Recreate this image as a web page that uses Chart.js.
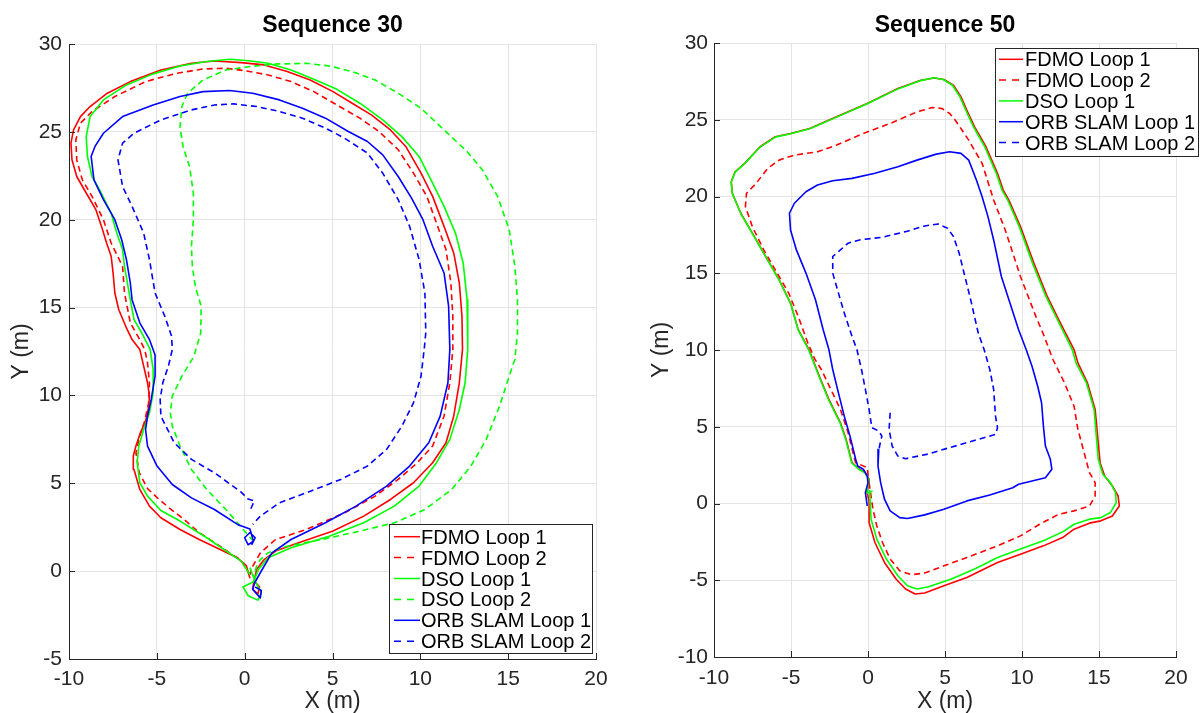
<!DOCTYPE html>
<html>
<head>
<meta charset="utf-8">
<title>Sequence 30 / Sequence 50</title>
<script src="https://cdn.jsdelivr.net/npm/chart.js@4.4.1/dist/chart.umd.min.js"></script>
<style>
    html, body { margin: 0; padding: 0; background: #fff; }
    #wrap { position: relative; width: 1200px; height: 713px; overflow: hidden; }
    canvas { position: absolute; top: 0; }
    #seq30Chart { left: 0; }
    #seq50Chart { left: 625px; }
</style>
</head>
<body>
<div id="wrap">
    <canvas id="seq30Chart" width="625" height="713"></canvas>
    <canvas id="seq50Chart" width="575" height="713"></canvas>
</div>
<script>
// ---- data (metres) ----
const seq30XTicks = [-10, -5, 0, 5, 10, 15, 20];
const seq30YTicks = [-5, 0, 5, 10, 15, 20, 25, 30];
const seq50XTicks = [-10, -5, 0, 5, 10, 15, 20];
const seq50YTicks = [-10, -5, 0, 5, 10, 15, 20, 25, 30];

const seq30FdmoLoop1 = [
    [0.3, -0.4], [0.1, 0.3], [-0.41, 0.76], [-2.59, 1.8], [-3.68, 2.37], [-4.77, 3.04], [-5.42, 3.7],
    [-5.97, 4.65], [-6.3, 5.79], [-6.34, 6.55], [-6.19, 7.12], [-5.97, 7.78], [-5.64, 8.54], [-5.47, 9.3],
    [-5.42, 9.96], [-5.53, 10.72], [-5.75, 11.67], [-5.97, 12.62], [-6.41, 13.18], [-6.73, 13.84],
    [-7.17, 14.89], [-7.39, 15.83], [-7.49, 16.97], [-7.6, 17.92], [-7.86, 18.67], [-8.15, 19.62],
    [-8.47, 20.57], [-9.02, 21.52], [-9.56, 22.46], [-9.83, 23.41], [-9.89, 24.36], [-9.74, 25.11],
    [-9.35, 25.87], [-8.8, 26.44], [-7.82, 27.2], [-6.51, 27.86], [-4.77, 28.52], [-3.03, 28.9],
    [-1.72, 29.03], [-0.2, 28.94], [1.11, 28.81], [2.42, 28.43], [3.73, 27.95], [5.03, 27.29],
    [6.12, 26.63], [7.21, 25.97], [8.3, 25.11], [9.17, 24.17], [10.04, 22.65], [10.7, 21.33],
    [11.35, 19.62], [11.9, 18.11], [12.22, 16.4], [12.37, 14.51], [12.4, 12.62], [12.22, 10.72],
    [11.9, 8.82], [11.46, 7.31], [10.7, 6.17], [9.61, 5.03], [8.3, 4.08], [6.78, 3.13], [5.03, 2.28],
    [3.07, 1.61], [1.76, 1.14], [1.11, 0.66], [0.68, 0.09], [0.55, -0.5], [0.45, -1.0], [0.75, -1.3],
    [0.85, -0.9], [0.5, -0.5],
];
const seq30FdmoLoop2 = [
    [0.3, -0.2], [-0.2, 0.6], [-1.6, 1.55], [-2.6, 2.2], [-3.46, 2.95], [-4.3, 3.6], [-5.0, 4.2],
    [-5.53, 4.7], [-6.0, 5.6], [-6.19, 6.74], [-5.97, 7.69], [-5.69, 8.54], [-5.47, 9.58], [-5.42, 10.72],
    [-5.53, 11.86], [-5.69, 12.62], [-6.08, 13.37], [-6.51, 14.13], [-6.84, 15.83], [-6.95, 17.35],
    [-7.6, 18.67], [-8.04, 20.0], [-8.69, 21.33], [-9.24, 22.27], [-9.56, 23.41], [-9.61, 24.55],
    [-9.35, 25.49], [-8.69, 26.16], [-7.39, 27.01], [-5.64, 27.86], [-3.9, 28.33], [-2.37, 28.58],
    [-1.07, 28.62], [0.02, 28.48], [1.33, 28.24], [2.64, 27.86], [3.94, 27.29], [5.25, 26.53],
    [6.56, 25.78], [7.65, 25.02], [8.74, 23.98], [9.61, 22.65], [10.37, 21.33], [10.92, 19.81],
    [11.46, 18.3], [11.74, 16.4], [11.85, 14.51], [11.85, 12.62], [11.68, 10.72], [11.35, 8.82],
    [10.7, 7.12], [9.83, 6.17], [8.74, 5.22], [7.43, 4.27], [5.69, 3.32], [3.51, 2.37], [1.76, 1.8],
    [0.89, 1.04], [0.46, 0.28], [0.3, -0.2],
];
const seq30DsoLoop1 = [
    [0.3, -0.2], [-0.2, 0.57], [-2.16, 1.9], [-3.68, 2.85], [-4.77, 3.45], [-5.53, 4.27], [-5.97, 5.03],
    [-6.12, 6.17], [-6.03, 7.12], [-5.75, 8.06], [-5.42, 9.01], [-5.21, 10.15], [-5.21, 11.48],
    [-5.38, 12.62], [-5.86, 13.56], [-6.3, 14.32], [-6.51, 15.45], [-6.84, 17.35], [-6.95, 18.3],
    [-7.28, 19.24], [-7.6, 20.38], [-8.26, 21.7], [-8.69, 22.46], [-8.95, 23.6], [-9.02, 24.73],
    [-8.8, 25.87], [-8.04, 26.82], [-6.73, 27.67], [-5.21, 28.3], [-3.68, 28.75], [-2.16, 29.0],
    [-0.85, 29.13], [0.24, 29.05], [1.33, 28.9], [2.64, 28.52], [3.94, 27.99], [5.25, 27.42],
    [6.56, 26.63], [7.86, 25.68], [8.95, 24.73], [9.93, 23.6], [10.7, 22.08], [11.35, 20.76],
    [12.0, 19.24], [12.44, 17.54], [12.66, 15.45], [12.7, 12.62], [12.55, 10.72], [12.22, 9.2],
    [11.68, 7.5], [10.92, 6.17], [9.93, 4.84], [8.52, 3.7], [6.78, 2.75], [4.81, 1.99], [2.64, 1.33],
    [1.33, 0.76], [0.79, 0.09], [0.5, -0.6], [-0.1, -0.9], [0.2, -1.4], [0.75, -1.65], [0.95, -1.2],
    [0.6, -0.6], [0.3, 0.2],
];
const seq30DsoLoop2 = [
    [0.5, 1.7], [-0.41, 2.75], [-1.07, 3.51], [-2.16, 4.65], [-3.03, 5.79], [-3.68, 7.12], [-4.12, 8.25],
    [-4.23, 9.01], [-4.12, 9.96], [-3.57, 11.1], [-2.9, 12.2], [-2.5, 13.56], [-2.48, 15.08],
    [-2.81, 16.21], [-2.98, 17.35], [-3.03, 18.49], [-2.92, 20.0], [-2.92, 21.52], [-3.14, 23.03],
    [-3.51, 24.17], [-3.68, 25.3], [-3.57, 26.44], [-3.25, 27.2], [-2.37, 27.95], [-1.07, 28.52],
    [0.24, 28.71], [1.76, 28.86], [3.51, 28.9], [4.81, 28.75], [6.12, 28.43], [7.43, 27.95],
    [8.74, 27.2], [10.04, 26.34], [11.35, 25.11], [12.66, 23.88], [13.53, 22.84], [14.4, 21.33],
    [15.06, 19.43], [15.38, 17.35], [15.53, 15.45], [15.53, 13.56], [15.38, 12.05], [15.06, 11.1],
    [14.51, 9.39], [13.75, 7.5], [12.88, 5.98], [11.79, 4.65], [10.26, 3.51], [8.52, 2.75], [6.56, 2.28],
    [4.38, 1.8], [2.42, 1.42], [1.33, 1.04], [0.89, 0.66], [0.68, 0.28], [0.5, -0.3],
];
const seq30OrbLoop1 = [
    [0.4, 1.5], [0.6, 1.9], [0.3, 2.2], [0.0, 1.9], [0.2, 1.5], [0.5, 1.7], [0.3, 2.4], [-0.41, 2.66],
    [-1.72, 3.51], [-3.03, 4.17], [-4.12, 4.93], [-4.99, 5.98], [-5.53, 7.12], [-5.64, 8.06],
    [-5.53, 8.82], [-5.32, 9.77], [-5.1, 11.1], [-5.1, 12.3], [-5.42, 13.18], [-5.97, 14.13],
    [-6.41, 15.45], [-6.51, 16.4], [-6.73, 17.73], [-7.0, 18.86], [-7.39, 20.0], [-8.04, 21.14],
    [-8.58, 22.27], [-8.74, 23.6], [-8.52, 24.17], [-8.04, 24.92], [-6.95, 25.87], [-5.21, 26.53],
    [-3.68, 27.01], [-2.37, 27.29], [-0.85, 27.35], [0.46, 27.2], [1.98, 26.82], [3.29, 26.34],
    [4.6, 25.78], [5.9, 25.02], [6.99, 24.45], [7.86, 23.69], [8.74, 22.46], [9.5, 21.23], [10.15, 20.0],
    [10.7, 18.49], [11.35, 16.97], [11.61, 15.08], [11.68, 12.62], [11.57, 10.72], [11.13, 8.82],
    [10.48, 7.31], [9.39, 5.98], [8.08, 4.84], [6.34, 3.7], [4.6, 2.75], [2.64, 1.8], [1.55, 1.04],
    [0.89, -0.09], [0.57, -0.66], [0.46, -1.04], [0.89, -1.52], [0.95, -1.1], [0.6, -0.9],
];
const seq30OrbLoop2 = [
    [0.35, 3.55], [0.55, 4.0], [0.2, 4.1], [-0.2, 4.5], [-0.41, 4.65], [-1.72, 5.6], [-3.03, 6.36],
    [-4.01, 7.31], [-4.77, 8.82], [-4.81, 9.77], [-4.66, 10.72], [-4.34, 11.67], [-4.12, 12.62],
    [-4.16, 13.37], [-4.55, 14.51], [-5.1, 15.83], [-5.42, 17.73], [-5.75, 19.24], [-6.41, 20.76],
    [-6.95, 21.89], [-7.21, 23.41], [-6.95, 24.36], [-6.3, 24.92], [-4.77, 25.68], [-3.03, 26.25],
    [-1.72, 26.53], [-0.63, 26.59], [0.68, 26.44], [1.98, 26.16], [3.29, 25.78], [4.6, 25.21],
    [5.69, 24.64], [6.99, 23.79], [7.86, 22.65], [8.74, 21.14], [9.39, 19.62], [9.93, 17.73],
    [10.26, 15.83], [10.31, 13.56], [10.22, 12.62], [10.04, 11.1], [9.61, 9.58], [8.95, 8.25],
    [8.08, 6.93], [6.99, 5.98], [5.47, 5.22], [3.51, 4.46], [1.98, 3.89], [0.89, 3.13], [0.46, 2.66],
];

const seq50FdmoLoop1 = [
    [0.07, 0.1], [0.07, -1.24], [0.45, -2.54], [1.07, -3.84], [1.82, -4.92], [2.44, -5.57], [3.06, -5.9],
    [3.68, -5.83], [4.93, -5.36], [6.42, -4.82], [8.41, -3.84], [9.9, -3.3], [11.39, -2.76], [12.64, -2.22],
    [13.38, -1.67], [14.38, -1.28], [15.12, -1.13], [15.87, -0.81], [16.32, -0.16], [16.24, 0.49],
    [15.87, 1.14], [15.37, 1.79], [15.07, 2.66], [14.75, 6.13], [14.25, 7.86], [13.63, 9.16],
    [13.38, 10.03], [12.39, 11.97], [11.64, 13.49], [10.77, 15.66], [9.9, 18.04], [9.15, 19.77],
    [8.78, 20.42], [8.41, 21.51], [7.66, 23.24], [6.92, 24.54], [6.42, 25.62], [6.04, 26.49],
    [5.55, 27.25], [4.93, 27.62], [4.3, 27.72], [3.43, 27.57], [1.94, 27.03], [-0.05, 26.06],
    [-2.04, 25.19], [-3.78, 24.43], [-5.03, 24.11], [-6.02, 23.89], [-7.01, 23.24], [-8.01, 22.16],
    [-8.63, 21.61], [-8.88, 20.96], [-8.81, 20.21], [-8.26, 18.91], [-7.51, 17.61], [-6.77, 16.31],
    [-5.77, 14.57], [-5.03, 13.06], [-4.53, 11.32], [-3.83, 10.03], [-3.16, 8.29], [-2.54, 6.78],
    [-1.79, 5.26], [-1.42, 4.18], [-1.04, 2.66], [-0.55, 2.23], [-0.17, 2.01], [0.07, 1.58],
    [-0.05, 0.71], [0.07, 0.1],
];
const seq50FdmoLoop2 = [
    [0.07, 1.36], [0.32, -0.37], [0.57, -1.46], [0.94, -2.54], [1.44, -3.62], [2.06, -4.38], [2.81, -4.64],
    [3.68, -4.53], [4.93, -4.06], [6.42, -3.52], [8.41, -2.76], [9.9, -2.11], [11.14, -1.35],
    [12.39, -0.7], [13.38, -0.48], [14.38, -0.16], [14.75, 0.49], [14.75, 1.36], [14.38, 2.01],
    [13.63, 4.83], [13.38, 6.34], [12.76, 7.86], [12.01, 9.38], [11.4, 11.0], [10.9, 12.19], [9.9, 14.79],
    [8.91, 17.82], [8.16, 19.77], [7.41, 22.16], [6.54, 23.67], [5.67, 24.97], [5.3, 25.41], [4.8, 25.73],
    [4.18, 25.8], [3.18, 25.51], [1.44, 24.76], [-0.3, 24.11], [-2.04, 23.35], [-3.28, 22.91],
    [-4.78, 22.7], [-5.77, 22.37], [-6.52, 21.83], [-7.26, 20.86], [-7.89, 20.21], [-7.96, 19.34],
    [-7.51, 18.04], [-6.77, 16.52], [-6.02, 15.22], [-5.15, 13.71], [-4.53, 12.19], [-3.91, 10.46],
    [-3.45, 9.4], [-3.03, 8.73], [-2.41, 7.43], [-1.79, 6.13], [-1.29, 4.61], [-0.92, 3.09], [-0.8, 2.66],
    [-0.05, 2.34], [0.07, 1.36],
];
const seq50DsoLoop1 = [
    [0.1, 0.9], [0.2, -1.02], [0.57, -2.32], [1.19, -3.62], [1.94, -4.71], [2.56, -5.36], [3.18, -5.57],
    [3.93, -5.42], [5.42, -4.92], [6.92, -4.27], [8.41, -3.52], [9.9, -2.97], [11.39, -2.43],
    [12.64, -1.85], [13.38, -1.35], [14.38, -1.02], [15.12, -0.92], [15.74, -0.59], [16.12, 0.06],
    [16.07, 0.71], [15.74, 1.36], [15.25, 1.9], [14.95, 2.88], [14.68, 6.13], [14.18, 7.86],
    [13.51, 9.16], [13.26, 10.03], [12.3, 11.97], [11.55, 13.49], [10.68, 15.66], [9.82, 18.04],
    [9.07, 19.77], [8.7, 20.42], [8.33, 21.51], [7.58, 23.24], [6.85, 24.54], [6.35, 25.62],
    [5.97, 26.49], [5.48, 27.25], [4.88, 27.62], [4.28, 27.74], [3.43, 27.55], [1.94, 27.01],
    [-0.05, 26.04], [-2.04, 25.17], [-3.78, 24.41], [-5.03, 24.09], [-6.02, 23.87], [-7.01, 23.22],
    [-8.01, 22.14], [-8.63, 21.59], [-8.88, 20.94], [-8.81, 20.19], [-8.26, 18.89], [-7.51, 17.59],
    [-6.77, 16.29], [-5.77, 14.55], [-5.03, 13.04], [-4.53, 11.3], [-3.85, 10.01], [-3.18, 8.27],
    [-2.56, 6.76], [-1.81, 5.24], [-1.44, 4.16], [-1.06, 2.64], [-0.57, 2.21], [-0.19, 1.99],
    [0.05, 1.56], [-0.07, 0.69], [0.3, 0.8],
];
const seq50OrbLoop1 = [
    [0.7, 3.53], [0.65, 2.44], [0.82, 1.36], [1.07, 0.28], [1.44, -0.48], [2.06, -0.92], [2.56, -0.98],
    [3.68, -0.74], [4.93, -0.37], [6.42, 0.17], [7.91, 0.56], [9.4, 1.03], [9.78, 1.25], [10.65, 1.47],
    [11.52, 1.68], [11.94, 2.23], [11.84, 2.88], [11.52, 3.74], [11.39, 5.04], [11.27, 6.56],
    [11.02, 7.64], [10.65, 8.94], [10.27, 10.03], [9.78, 11.32], [9.15, 13.27], [8.66, 14.79],
    [8.16, 17.17], [7.79, 18.69], [7.41, 19.99], [7.04, 21.07], [6.54, 22.37], [6.04, 22.81],
    [5.3, 22.91], [4.43, 22.76], [3.18, 22.37], [1.94, 21.94], [0.45, 21.51], [-1.04, 21.18],
    [-2.29, 21.03], [-3.28, 20.75], [-4.03, 20.31], [-4.78, 19.56], [-5.1, 18.91], [-5.03, 17.82],
    [-4.65, 16.52], [-4.03, 15.01], [-3.41, 13.27], [-2.91, 11.32], [-2.54, 10.03], [-2.29, 8.73],
    [-1.92, 7.21], [-1.54, 5.69], [-1.17, 4.39], [-0.8, 2.88], [-0.67, 2.44], [-0.3, 2.23], [-0.05, 1.79],
    [0.0, 1.36], [-0.17, 0.71], [-0.05, -0.16],
];
const seq50OrbLoop2 = [
    [1.44, 5.91], [1.37, 4.83], [1.57, 3.74], [1.94, 3.09], [2.44, 2.92], [3.81, 3.2], [5.3, 3.64],
    [6.79, 4.07], [8.28, 4.5], [8.41, 4.94], [8.28, 5.69], [8.16, 7.43], [7.91, 8.73], [7.54, 10.03],
    [7.16, 11.1], [6.67, 13.27], [6.29, 14.79], [5.92, 16.31], [5.55, 17.39], [5.17, 17.93],
    [4.55, 18.21], [3.68, 18.08], [2.44, 17.71], [0.95, 17.35], [-0.55, 17.17], [-1.29, 16.96],
    [-1.92, 16.41], [-2.29, 16.09], [-2.29, 15.01], [-1.92, 13.71], [-1.54, 12.41], [-1.04, 10.89],
    [-0.72, 10.03], [-0.42, 8.73], [-0.17, 7.43], [0.07, 6.13], [0.25, 4.94], [0.7, 4.72], [0.9, 4.39],
    [0.75, 3.74], [0.7, 3.31],
];

// ---- styling ----
const FONT = '"Liberation Sans", Arial, Helvetica, sans-serif';
const AXIS_COLOR = "#262626";
const GRID_COLOR = "#e4e4e4";
const RED = "#ff0000";
const GREEN = "#00ff00";
const BLUE = "#0000ff";
const DASH = [6, 4];

function toPoints(pairs) {
    return pairs.map(([x, y]) => ({ x, y }));
}

function makeDataset(label, pairs, color, dashed, index) {
    return {
        label,
        data: toPoints(pairs),
        borderColor: color,
        backgroundColor: color,
        borderWidth: 1.6,
        borderDash: dashed ? DASH : [],
        borderJoinStyle: "round",
        showLine: true,
        pointRadius: 0,
        tension: 0,
        fill: false,
        // later series end up on top, like the original
        order: 20 - index,
    };
}

// axes, inward ticks, titles and the boxed legend
const framePlugin = {
    id: "frame",
    afterDraw(chart, args, opts) {
        const { ctx, chartArea: area, scales } = chart;
        ctx.save();

        ctx.strokeStyle = AXIS_COLOR;
        ctx.lineWidth = 1;
        scales.x.ticks.forEach((tick) => {
            const px = Math.round(scales.x.getPixelForValue(tick.value)) + 0.5;
            ctx.beginPath();
            ctx.moveTo(px, area.bottom);
            ctx.lineTo(px, area.bottom - 6);
            ctx.stroke();
        });
        scales.y.ticks.forEach((tick) => {
            const py = Math.round(scales.y.getPixelForValue(tick.value)) + 0.5;
            ctx.beginPath();
            ctx.moveTo(area.left, py);
            ctx.lineTo(area.left + 6, py);
            ctx.stroke();
        });

        const midX = (area.left + area.right) / 2;
        const midY = (area.top + area.bottom) / 2;

        ctx.fillStyle = "#000";
        ctx.textAlign = "center";
        ctx.textBaseline = "alphabetic";
        ctx.font = `bold 23px ${FONT}`;
        ctx.fillText(opts.title, midX, 32);

        ctx.fillStyle = AXIS_COLOR;
        ctx.font = `23px ${FONT}`;
        ctx.fillText("X (m)", midX, 708);

        ctx.save();
        ctx.translate(opts.yTitleX, midY);
        ctx.rotate(-Math.PI / 2);
        ctx.fillText("Y (m)", 0, 0);
        ctx.restore();

        const box = opts.legend;
        ctx.fillStyle = "#fff";
        ctx.fillRect(box.x, box.y, box.w, box.h);
        ctx.strokeStyle = AXIS_COLOR;
        ctx.lineWidth = 1;
        ctx.strokeRect(box.x + 0.5, box.y + 0.5, box.w, box.h);

        ctx.font = `20px ${FONT}`;
        ctx.textAlign = "left";
        chart.data.datasets.forEach((ds, i) => {
            const cy = box.firstRow + i * box.rowGap;
            ctx.strokeStyle = ds.borderColor;
            ctx.lineWidth = 1.5;
            ctx.setLineDash(ds.borderDash.length ? [7, 6] : []);
            ctx.beginPath();
            ctx.moveTo(box.sampleX1, cy);
            ctx.lineTo(box.sampleX2, cy);
            ctx.stroke();
            ctx.setLineDash([]);
            ctx.fillStyle = "#000";
            ctx.fillText(ds.label, box.textX, cy + 7);
        });

        ctx.restore();
    },
};

function makeScale(ticks, axisSize, tickPadding, isX) {
    return {
        type: "linear",
        min: ticks[0],
        max: ticks[ticks.length - 1],
        afterBuildTicks: (scale) => {
            scale.ticks = ticks.map((value) => ({ value }));
        },
        afterFit: (scale) => {
            if (isX) {
                scale.height = axisSize;
            } else {
                scale.width = axisSize;
            }
        },
        ticks: {
            color: AXIS_COLOR,
            font: { family: FONT, size: 21 },
            padding: tickPadding,
            maxRotation: 0,
            autoSkip: false,
        },
        grid: { color: GRID_COLOR, drawTicks: false, lineWidth: 1 },
        border: { color: AXIS_COLOR, width: 1 },
    };
}

function buildChart(canvasId, datasets, setup) {
    return new Chart(document.getElementById(canvasId), {
        type: "scatter",
        data: { datasets },
        options: {
            responsive: false,
            animation: false,
            events: [],
            layout: { autoPadding: false, padding: setup.padding },
            plugins: {
                legend: { display: false },
                tooltip: { enabled: false },
                frame: setup.frame,
            },
            scales: {
                x: makeScale(setup.xTicks, setup.xAxisHeight, setup.xTickPad, true),
                y: makeScale(setup.yTicks, setup.yAxisWidth, setup.yTickPad, false),
            },
        },
        plugins: [framePlugin],
    });
}

const seq30Datasets = [
    makeDataset("FDMO Loop 1", seq30FdmoLoop1, RED, false, 0),
    makeDataset("FDMO Loop 2", seq30FdmoLoop2, RED, true, 1),
    makeDataset("DSO Loop 1", seq30DsoLoop1, GREEN, false, 2),
    makeDataset("DSO Loop 2", seq30DsoLoop2, GREEN, true, 3),
    makeDataset("ORB SLAM Loop 1", seq30OrbLoop1, BLUE, false, 4),
    makeDataset("ORB SLAM Loop 2", seq30OrbLoop2, BLUE, true, 5),
];

const seq50Datasets = [
    makeDataset("FDMO Loop 1", seq50FdmoLoop1, RED, false, 0),
    makeDataset("FDMO Loop 2", seq50FdmoLoop2, RED, true, 1),
    makeDataset("DSO Loop 1", seq50DsoLoop1, GREEN, false, 2),
    makeDataset("ORB SLAM Loop 1", seq50OrbLoop1, BLUE, false, 3),
    makeDataset("ORB SLAM Loop 2", seq50OrbLoop2, BLUE, true, 4),
];

buildChart("seq30Chart", seq30Datasets, {
    xTicks: seq30XTicks,
    yTicks: seq30YTicks,
    padding: { top: 44, right: 29, left: 0, bottom: 0 },
    xAxisHeight: 54,
    yAxisWidth: 69,
    xTickPad: 8,
    yTickPad: 7,
    frame: {
        title: "Sequence 30",
        yTitleX: 28,
        legend: { x: 389, y: 524, w: 203, h: 129, firstRow: 536.7, rowGap: 20.9, sampleX1: 394, sampleX2: 420, textX: 421 },
    },
});

buildChart("seq50Chart", seq50Datasets, {
    xTicks: seq50XTicks,
    yTicks: seq50YTicks,
    padding: { top: 43, right: 24, left: 0, bottom: 0 },
    xAxisHeight: 56,
    yAxisWidth: 89,
    xTickPad: 9,
    yTickPad: 6,
    frame: {
        title: "Sequence 50",
        yTitleX: 43,
        legend: { x: 370, y: 48, w: 203, h: 108, firstRow: 59.3, rowGap: 20.8, sampleX1: 374, sampleX2: 398, textX: 400 },
    },
});
</script>
</body>
</html>
